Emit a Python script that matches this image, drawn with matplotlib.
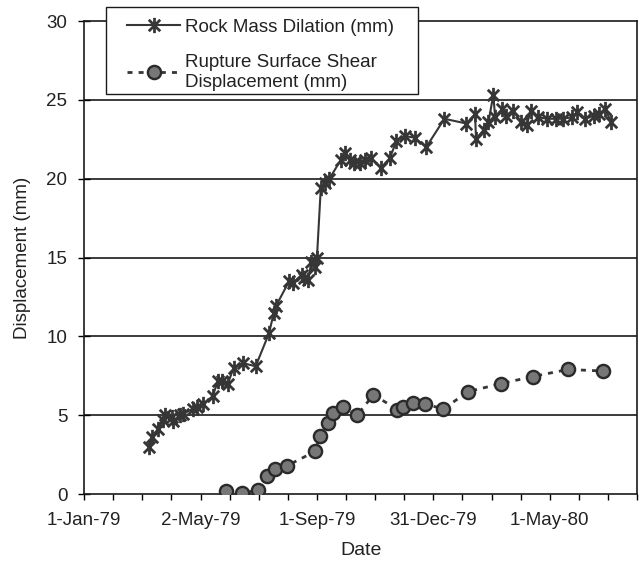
import numpy as np
import matplotlib
matplotlib.use('Agg')
import matplotlib.pyplot as plt
import matplotlib.dates as mdates
from matplotlib.path import Path
from matplotlib.patches import Rectangle
from matplotlib.lines import Line2D

plt.rcParams['font.family'] = ['Liberation Sans', 'DejaVu Sans']

# Rock mass dilation (mm)
rock_dates = ['1979-03-10', '1979-03-13', '1979-03-19', '1979-03-24', '1979-03-26',
              '1979-04-03', '1979-04-04', '1979-04-11', '1979-04-14', '1979-04-25',
              '1979-04-29', '1979-05-05', '1979-05-15', '1979-05-21', '1979-05-25',
              '1979-05-31', '1979-06-06', '1979-06-16', '1979-06-29', '1979-07-13',
              '1979-07-18', '1979-07-20', '1979-08-03', '1979-08-07', '1979-08-16',
              '1979-08-19', '1979-08-23', '1979-08-26', '1979-08-30', '1979-09-01',
              '1979-09-05', '1979-09-09', '1979-09-14', '1979-09-26', '1979-09-30',
              '1979-10-05', '1979-10-10', '1979-10-16', '1979-10-21', '1979-10-27',
              '1979-11-07', '1979-11-16', '1979-11-23', '1979-12-02', '1979-12-12',
              '1979-12-24', '1980-01-12', '1980-02-04', '1980-02-13', '1980-02-14',
              '1980-02-22', '1980-02-27', '1980-03-03', '1980-03-05', '1980-03-12',
              '1980-03-16', '1980-03-24', '1980-04-01', '1980-04-07', '1980-04-11',
              '1980-04-19', '1980-04-28', '1980-05-07', '1980-05-15', '1980-05-24',
              '1980-05-29', '1980-06-07', '1980-06-16', '1980-06-21', '1980-06-28',
              '1980-07-04']
rock_mm = [3.0, 3.6, 4.1, 4.7, 5.0,
           4.9, 4.6, 5.0, 5.1, 5.4,
           5.5, 5.7, 6.2, 7.2, 7.2,
           7.0, 8.0, 8.3, 8.1, 10.2,
           11.5, 11.9, 13.5, 13.4, 13.9,
           13.7, 13.6, 14.7, 14.4, 15.0,
           19.4, 19.7, 20.0, 21.2, 21.6,
           21.2, 21.0, 21.0, 21.2, 21.3,
           20.7, 21.3, 22.4, 22.7, 22.6,
           22.0, 23.8, 23.5, 24.1, 22.5,
           23.1, 23.6, 25.3, 23.9, 24.4,
           24.0, 24.3, 23.6, 23.4, 24.3,
           23.9, 23.8, 23.8, 23.8, 23.9,
           24.2, 23.8, 24.0, 24.1, 24.4,
           23.6]

# Rupture surface shear displacement (mm)
shear_dates = ['1979-05-29', '1979-06-15', '1979-07-01', '1979-07-11', '1979-07-19',
               '1979-08-01', '1979-08-30', '1979-09-04', '1979-09-13', '1979-09-18',
               '1979-09-28', '1979-10-13', '1979-10-30', '1979-11-24', '1979-11-30',
               '1979-12-10', '1979-12-23', '1980-01-11', '1980-02-06', '1980-03-11',
               '1980-04-13', '1980-05-20', '1980-06-26']
shear_mm = [0.2, 0.05, 0.25, 1.15, 1.6,
            1.8, 2.7, 3.65, 4.5, 5.15,
            5.5, 5.0, 6.3, 5.35, 5.5,
            5.8, 5.7, 5.4, 6.5, 7.0,
            7.45, 7.9, 7.8]

tick_labels = ['1-Jan-79', '2-May-79', '1-Sep-79', '31-Dec-79', '1-May-80']
y_ticks = [0, 5, 10, 15, 20, 25, 30]

rock_x = mdates.date2num(np.array(rock_dates, dtype='datetime64[D]'))
shear_x = mdates.date2num(np.array(shear_dates, dtype='datetime64[D]'))
start = mdates.date2num(np.datetime64('1979-01-01'))
major_unit = 121.5

# Excel-style star: vertical bar plus an X
star = Path([(0, -1), (0, 1), (-0.75, -0.75), (0.75, 0.75), (-0.75, 0.75), (0.75, -0.75)],
            [Path.MOVETO, Path.LINETO, Path.MOVETO, Path.LINETO, Path.MOVETO, Path.LINETO])

line_col = '#363636'
text_col = '#222222'
rock_style = dict(color=line_col, lw=1.5, marker=star, ms=11, mew=2.0, mec=line_col)
shear_style = dict(color=line_col, lw=2.0, ls=(0, (1.8, 2.2)), marker='o', ms=9.5,
                   mfc='#777777', mec='#2a2a2a', mew=1.7)

fig = plt.figure(figsize=(6.42, 5.61), dpi=100)
ax = fig.add_axes([0.131, 0.1194, 0.8614, 0.8431])

ax.plot(rock_x, rock_mm, zorder=4, **rock_style)
ax.plot(shear_x, shear_mm, zorder=4, **shear_style)

ax.set_ylim(0, 30)
ax.set_yticks(y_ticks)
for v in y_ticks[1:-1]:
    ax.axhline(v, color='#1a1a1a', lw=1.2, zorder=1)

ax.set_xlim(start, start + 577)
ax.set_xticks([start + major_unit * i for i in range(len(tick_labels))])
ax.set_xticklabels(tick_labels)
ax.set_xticks([start + major_unit / 4 * i for i in range(20) if i % 4], minor=True)

ax.tick_params(axis='x', which='both', direction='out', length=4, width=1,
               pad=9, labelsize=13.5, labelcolor=text_col)
ax.tick_params(axis='y', direction='inout', length=8, width=1, pad=8,
               labelsize=13.5, labelcolor=text_col)
for s in ax.spines.values():
    s.set_color('#1a1a1a')
    s.set_linewidth(1.2)

ax.set_xlabel('Date', fontsize=14, color=text_col, labelpad=9)
ax.set_ylabel('Displacement (mm)', fontsize=13.5, color=text_col, labelpad=11)

# legend box, partly over the top of the plot area
W, H = 642, 561
fig.patches.append(Rectangle((106 / W, 1 - 94 / H), (418 - 106) / W, (94 - 7) / H,
                             transform=fig.transFigure, facecolor='white',
                             edgecolor='#1a1a1a', lw=1.0, zorder=2))
handles = [Line2D([], [], **rock_style), Line2D([], [], **shear_style)]
leg = fig.legend(handles, ['Rock Mass Dilation (mm)', 'Rupture Surface Shear\nDisplacement (mm)'],
                 loc='upper left', bbox_to_anchor=(118 / W, 1 - 9 / H), frameon=False,
                 borderpad=0, handlelength=2.8, handletextpad=0.25, labelspacing=1.0,
                 fontsize=13.5, numpoints=1)
for t in leg.get_texts():
    t.set_color(text_col)
leg.set_zorder(5)

fig.savefig('out.png', dpi=100)
